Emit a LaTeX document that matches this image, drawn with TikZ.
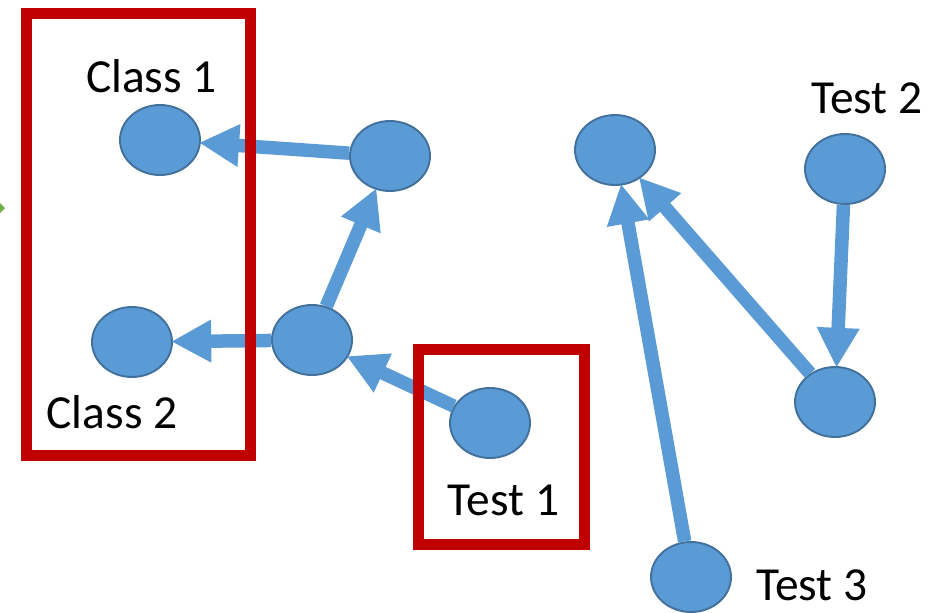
\documentclass[tikz,border=0pt]{standalone}
\usepackage{fontspec}
\setmainfont{Carlito}
\usepackage{xcolor}
\usepackage{tikz}
\usetikzlibrary{arrows.meta, positioning, shapes.geometric}

\definecolor{ptblue}{HTML}{5B9BD5}
\definecolor{ptedge}{HTML}{41719C}
\definecolor{boxred}{HTML}{C00000}
\definecolor{tipgreen}{HTML}{70AD47}

\begin{document}
\begin{tikzpicture}[
  x=0.02cm, y=-0.02cm,
  blob/.style={ellipse, draw=ptedge, fill=ptblue, line width=1.1pt,
               minimum width=1.6cm, minimum height=1.4cm, inner sep=0pt},
  arr/.style={-{Triangle[length=0.8cm, width=0.8cm]}, ptblue,
              line width=0.27cm, shorten >=-1pt},
  grp/.style={draw=boxred, line width=0.22cm},
  lbl/.style={anchor=base, inner sep=0pt,
              font=\fontsize{27}{32}\selectfont},
]
\useasboundingbox (0,0) rectangle (949,612);

% ---- Points ----------------------------------------------------------------
\node[blob] (cls1) at (160, 140) {};
\node[blob] (cls2) at (132, 342) {};
\node[blob] (mida) at (390, 156) {};
\node[blob] (midb) at (312, 340) {};
\node[blob] (tst1) at (490, 423) {};
\node[blob] (topc) at (615, 150) {};
\node[blob] (tst2) at (845, 169) {};
\node[blob] (lowd) at (835, 402) {};
\node[blob] (tst3) at (691, 577) {};

% ---- Links -----------------------------------------------------------------
\draw[arr] (mida) -- (cls1);
\draw[arr] (midb) -- (cls2);
\draw[arr] (midb) -- (mida);
\draw[arr] (tst1) -- (midb);
\draw[arr] (lowd) -- (topc);
\draw[arr] (tst3) -- (topc);
\draw[arr] (tst2) -- (lowd);

% ---- Boxes -----------------------------------------------------------------
\draw[grp] (26.5, 13.5) rectangle (250.5, 455.5);
\draw[grp] (418, 349) rectangle (584, 544);

% ---- Labels ----------------------------------------------------------------
\node[lbl] (lcls1) at (151.5, 92) {Class 1};
\node[lbl] (lcls2) at (112, 428) {Class 2};
\node[lbl] (ltst1) at (503.5, 515) {Test 1};
\node[lbl] (ltst2) at (867, 113) {Test 2};
\node[lbl] (ltst3) at (812, 600) {Test 3};

% ---- Edge tip --------------------------------------------------------------
\fill[tipgreen] (0, 203) -- (5, 208) -- (0, 213) -- cycle;

\end{tikzpicture}
\end{document}
